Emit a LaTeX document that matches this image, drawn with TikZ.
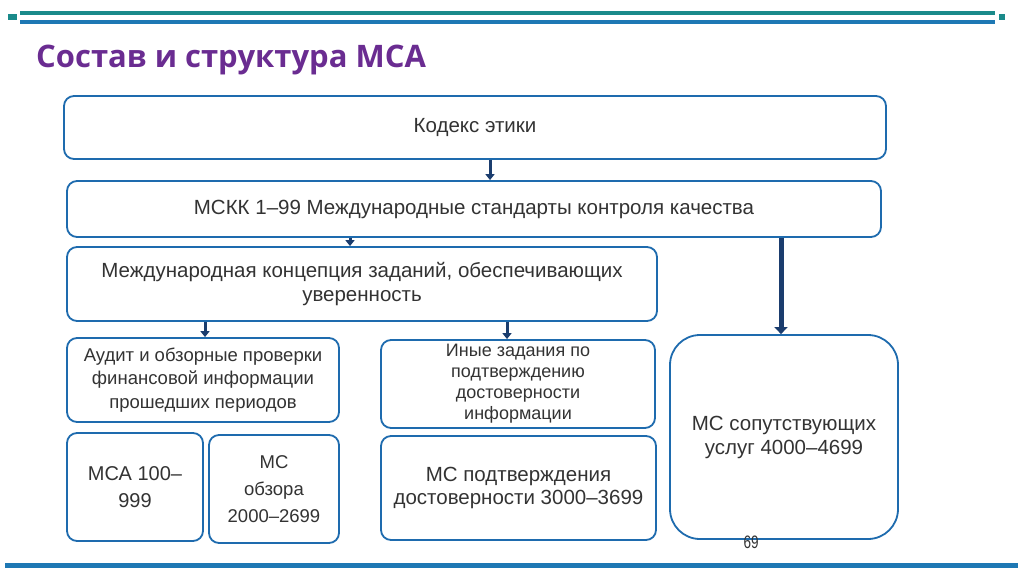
\documentclass[tikz,border=0pt]{standalone}
\usepackage{fontspec}
\setmainfont{Liberation Sans}
\newfontfamily\titlefont{Open Sans}
\newfontfamily\numfont{Liberation Sans}
\usetikzlibrary{arrows.meta}
\definecolor{boxblue}{HTML}{1E6BAE}
\definecolor{navy}{HTML}{1B3D6E}
\definecolor{teal}{HTML}{1A8A8A}
\definecolor{lineblue}{HTML}{1E78B4}
\definecolor{titlepurple}{HTML}{6A2C91}
\definecolor{txt}{HTML}{333333}
\tikzset{
  box/.style={draw=boxblue, line width=1.8pt, rounded corners=10pt, fill=white,
    align=center, text=txt, inner sep=0pt, font=\fontsize{20.5}{24}\selectfont},
  arr/.style={draw=navy, line width=3pt, -{Triangle[width=9pt,length=6pt]}},
  bigarr/.style={draw=navy, line width=5pt, -{Triangle[width=13pt,length=7pt]}},
}
\begin{document}
\begin{tikzpicture}[x=1pt,y=-1pt]
\useasboundingbox (0,0) rectangle (1024,574);
% decorative lines
\fill[teal] (20,11) rectangle (995,15);
\fill[lineblue] (20,20) rectangle (995,24);
\fill[teal] (8,14) rectangle (17,20);
\fill[teal] (999,14) rectangle (1005,20);
\fill[lineblue] (5,563) rectangle (1018,568);
% title
\node[anchor=base west, inner sep=0pt, text=titlepurple, font=\titlefont\bfseries\fontsize{31}{35}\selectfont] (title) at (36,67) {Состав и структура МСА};
% boxes
\node[box, minimum width=822pt, minimum height=63pt] (kod) at (475,127.5) {Кодекс этики};
\node[box, minimum width=814pt, minimum height=56pt] (mskk) at (474,209) {МСКК 1–99 Международные стандарты контроля качества};
\node[box, minimum width=590pt, minimum height=74pt] (konc) at (362,284) {Международная концепция заданий, обеспечивающих\\уверенность};
\node[box, minimum width=272pt, minimum height=84pt, font=\fontsize{18.5}{23.5}\selectfont] (audit) at (203,380) {Аудит и обзорные проверки\\финансовой информации\\прошедших периодов};
\node[box, minimum width=274pt, minimum height=88pt, font=\fontsize{18}{21}\selectfont] (inye) at (518,384) {Иные задания по\\подтверждению\\достоверности\\информации};
\node[box, minimum width=136pt, minimum height=108pt, font=\fontsize{20}{27}\selectfont] (msa) at (135,487) {МСА 100–\\999};
\node[box, minimum width=130pt, minimum height=108pt, font=\fontsize{18.5}{27}\selectfont] (obz) at (274,489) {МС\\обзора\\2000–2699};
\node[box, minimum width=275pt, minimum height=104pt, font=\fontsize{20.5}{23.5}\selectfont] (podt) at (518.5,488) {МС подтверждения\\достоверности 3000–3699};
\node[box, rounded corners=30pt, minimum width=228pt, minimum height=204pt, font=\fontsize{20.5}{24}\selectfont] (sop) at (784,437) {МС сопутствующих\\услуг 4000–4699};
% page number
\node[anchor=base, inner sep=0pt, text=txt, font=\numfont\fontsize{18}{20}\selectfont, xscale=0.75] (num) at (751,548) {69};
% arrows
\draw[arr] (kod.south -| 490,0) -- (mskk.north -| 490,0);
\draw[arr] (mskk.south -| 350,0) -- (konc.north -| 350,0);
\draw[bigarr] (mskk.south -| 781,0) -- (sop.north -| 781,0);
\draw[arr] (konc.south -| 205,0) -- (audit.north -| 205,0);
\draw[arr] (konc.south -| 507,0) -- (inye.north -| 507,0);
\end{tikzpicture}
\end{document}
